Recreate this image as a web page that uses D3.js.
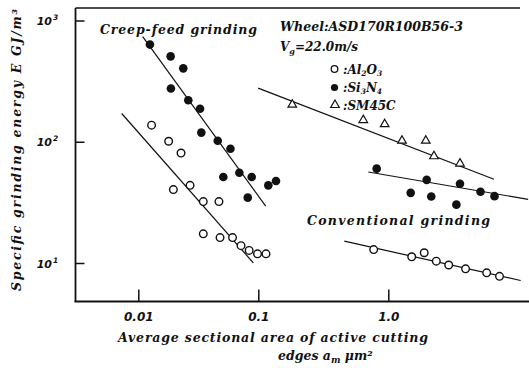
<!DOCTYPE html>
<html>
<head>
<meta charset="utf-8">
<script src="https://cdn.jsdelivr.net/npm/d3@7.9.0/dist/d3.min.js"></script>
<style>
  body { margin: 0; background: #fff; }
  svg { display: block; }
  text { font-family: "DejaVu Serif", serif; font-style: italic; font-weight: bold; fill: #111; }
</style>
</head>
<body>
<svg id="chart" width="529" height="368"></svg>
<script>
// creep-feed grinding, Si3N4 (filled circles)
const creepSi3N4 = [
  [0.0125, 633], [0.0186, 506], [0.0237, 403], [0.0187, 275], [0.0261, 220],
  [0.0327, 187], [0.0335, 119], [0.0459, 102], [0.0586, 87.5], [0.0511, 51.2],
  [0.0695, 55.5], [0.0881, 51.2], [0.0817, 34.6], [0.1194, 43.7], [0.1368, 47.4]
];
// creep-feed grinding, Al2O3 (open circles)
const creepAl2O3 = [
  [0.0129, 137], [0.0179, 101], [0.0227, 80.7], [0.0196, 40.3], [0.027, 43.7],
  [0.0348, 32.1], [0.047, 32.1], [0.0348, 17.4], [0.048, 16.2], [0.061, 16.2],
  [0.0718, 13.9], [0.0839, 12.7], [0.0985, 11.9], [0.1146, 11.9]
];
// SM45C (triangles)
const sm45c = [
  [0.1826, 202], [0.642, 151], [0.938, 139.5], [1.275, 102], [1.943, 102],
  [2.246, 75.9], [3.56, 66.1]
];
// conventional grinding, Si3N4
const convSi3N4 = [
  [0.814, 60.0], [1.974, 48.5], [3.56, 45.1], [5.12, 38.7], [6.56, 35.6],
  [1.487, 37.9], [2.14, 35.4], [3.34, 30.3]
];
// conventional grinding, Al2O3
const convAl2O3 = [
  [0.772, 12.9], [1.514, 11.25], [1.889, 12.15], [2.34, 10.35], [2.915, 9.63],
  [3.93, 8.95], [5.71, 8.30], [7.17, 7.76]
];
// fitted lines (end points)
const fitCreepSi3N4 = [[0.01088, 735], [0.114, 29.5]];
const fitCreepAl2O3 = [[0.00727, 171], [0.0908, 10.04]];
const fitSm45c = [[0.0997, 277], [6.5, 49]];
const fitConvSi3N4 = [[0.702, 56.3], [11.9, 33.5]];
const fitConvAl2O3 = [[0.4586, 15.14], [10.43, 7.17]];

const xTicks = [0.01, 0.1, 1];
const xTickLabels = ['0.01', '0.1', '1.0'];
const yTicks = [10, 100, 1000];
const yTickExp = ['1', '2', '3'];

const svg = d3.select('#chart');
const plotLeft = 75.5, plotRight = 527, plotTop = 8, plotBottom = 301.5;

const x = d3.scaleLog().domain([0.01, 0.1, 1]).range([138.3, 258.3, 388.3]);
const y = d3.scaleLog().domain([10, 1000]).range([263, 20.5]);

// frame
svg.append('line').attr('x1', plotLeft).attr('x2', plotLeft).attr('y1', plotTop).attr('y2', plotBottom)
  .attr('stroke', '#111').attr('stroke-width', 1.8);
svg.append('line').attr('x1', plotLeft - 1).attr('x2', plotRight + 2).attr('y1', plotBottom).attr('y2', plotBottom)
  .attr('stroke', '#111').attr('stroke-width', 1.8);
svg.append('line').attr('x1', plotLeft).attr('x2', 520).attr('y1', plotTop).attr('y2', plotTop)
  .attr('stroke', '#111').attr('stroke-width', 1.5);

// x axis
const xAxis = svg.append('g').attr('transform', `translate(0,${plotBottom})`)
  .call(d3.axisBottom(x).tickValues(xTicks).tickSizeInner(-12).tickSizeOuter(0)
    .tickPadding(20).tickFormat((d, i) => xTickLabels[i]));
xAxis.select('.domain').remove();
xAxis.selectAll('line').attr('stroke', '#111').attr('stroke-width', 1.5);
xAxis.selectAll('text').attr('font-size', 12).attr('fill', '#111').attr('dy', 0)
  .attr('y', 19).style('font-family', '"DejaVu Sans", sans-serif');

// y axis
const yAxis = svg.append('g').attr('transform', `translate(${plotLeft},0)`)
  .call(d3.axisLeft(y).tickValues(yTicks).tickSizeInner(-9).tickSizeOuter(0).tickFormat(''));
yAxis.select('.domain').remove();
yAxis.selectAll('line').attr('stroke', '#111').attr('stroke-width', 1.5);
yTicks.forEach((v, i) => {
  svg.append('text').attr('x', 52).attr('y', y(v) + 4.5)
    .attr('text-anchor', 'end').attr('font-size', 11)
    .style('font-family', '"DejaVu Sans", sans-serif').text('10');
  svg.append('text').attr('x', 53).attr('y', y(v) - 0.5).attr('font-size', 7.5)
    .style('font-family', '"DejaVu Sans", sans-serif').text(yTickExp[i]);
});

// fit lines
const line = d3.line().x(d => x(d[0])).y(d => y(d[1]));
[fitCreepSi3N4, fitCreepAl2O3, fitSm45c, fitConvSi3N4, fitConvAl2O3].forEach(f => {
  svg.append('path').attr('d', line(f)).attr('fill', 'none')
    .attr('stroke', '#111').attr('stroke-width', 1.2);
});

// points
function filled(data) {
  svg.append('g').selectAll('circle').data(data).join('circle')
    .attr('cx', d => x(d[0])).attr('cy', d => y(d[1])).attr('r', 4.3).attr('fill', '#111');
}
function open(data) {
  svg.append('g').selectAll('circle').data(data).join('circle')
    .attr('cx', d => x(d[0])).attr('cy', d => y(d[1])).attr('r', 3.8)
    .attr('fill', '#fff').attr('stroke', '#111').attr('stroke-width', 1.4);
}
const tri = d3.symbol().type(d3.symbolTriangle).size(32);
function triangles(data) {
  svg.append('g').selectAll('path').data(data).join('path')
    .attr('d', tri).attr('transform', d => `translate(${x(d[0])},${y(d[1])})`)
    .attr('fill', '#fff').attr('stroke', '#111').attr('stroke-width', 1.2);
}
filled(creepSi3N4);
open(creepAl2O3);
triangles(sm45c);
filled(convSi3N4);
open(convAl2O3);

// annotations
svg.append('text').attr('x', 100).attr('y', 34).attr('font-size', 12.5)
  .attr('font-weight', 'normal').attr('textLength', 157).attr('lengthAdjust', 'spacing')
  .text('Creep-feed grinding');
svg.append('text').attr('x', 280).attr('y', 31).attr('font-size', 12)
  .attr('textLength', 183).attr('lengthAdjust', 'spacingAndGlyphs')
  .text('Wheel:ASD170R100B56-3');
const vg = svg.append('text').attr('x', 280).attr('y', 51).attr('font-size', 12);
vg.append('tspan').text('V');
vg.append('tspan').attr('font-size', 8).attr('dy', 3).text('g');
vg.append('tspan').attr('dy', -3).text('=22.0m/s');

// legend
const legendY = [69, 87.5, 105];
svg.append('circle').attr('cx', 334.5).attr('cy', legendY[0]).attr('r', 3.3)
  .attr('fill', '#fff').attr('stroke', '#111').attr('stroke-width', 1.3);
svg.append('circle').attr('cx', 334.5).attr('cy', legendY[1]).attr('r', 3.6).attr('fill', '#111');
svg.append('path').attr('d', tri).attr('transform', `translate(335,${legendY[2]})`)
  .attr('fill', '#fff').attr('stroke', '#111').attr('stroke-width', 1.2);
function chem(yy, parts) {
  const t = svg.append('text').attr('x', 343).attr('y', yy + 4.5).attr('font-size', 12);
  parts.forEach(p => {
    t.append('tspan').attr('font-size', p[1] ? 7.5 : 12).attr('dy', p[2] || 0).text(p[0]);
  });
}
chem(legendY[0], [[':Al'], ['2', true, 2], ['O', false, -2], ['3', true, 2]]);
chem(legendY[1], [[':Si'], ['3', true, 2], ['N', false, -2], ['4', true, 2]]);
chem(legendY[2], [[':SM45C']]);

svg.append('text').attr('x', 307).attr('y', 225).attr('font-size', 12.5)
  .attr('font-weight', 'normal').attr('textLength', 183).attr('lengthAdjust', 'spacing')
  .text('Conventional grinding');

// axis titles
svg.append('text').attr('transform', 'translate(21,150) rotate(-90)')
  .attr('text-anchor', 'middle').attr('font-size', 12.5)
  .attr('textLength', 282).attr('lengthAdjust', 'spacing')
  .text('Specific grinding energy E GJ/m³');
svg.append('text').attr('x', 118).attr('y', 342).attr('font-size', 12.5)
  .attr('textLength', 310).attr('lengthAdjust', 'spacing')
  .text('Average sectional area of active cutting');
const xl2 = svg.append('text').attr('x', 278).attr('y', 360).attr('font-size', 12.5);
xl2.append('tspan').text('edges a');
xl2.append('tspan').attr('font-size', 9).attr('dy', 3).text('m');
xl2.append('tspan').attr('dy', -3).text('  μm²');
</script>
</body>
</html>
